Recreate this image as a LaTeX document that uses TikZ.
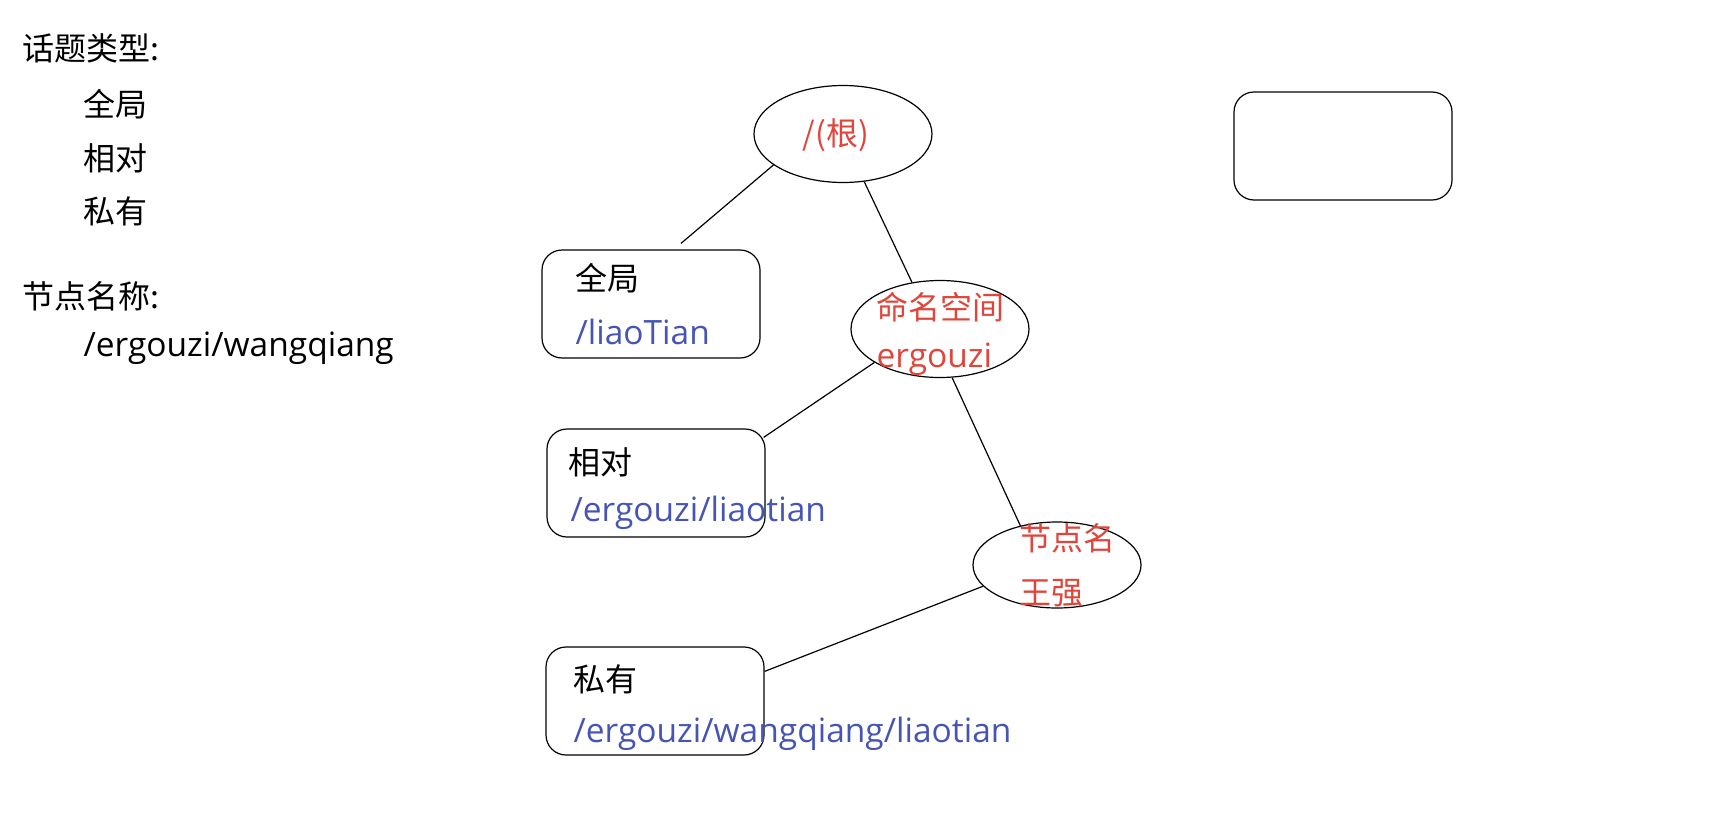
\documentclass[tikz,border=0pt]{standalone}
\usepackage{fontspec}
\setmainfont{Open Sans}
\newfontfamily\cjk{Noto Sans CJK SC}
\usepackage{tikz}
\usetikzlibrary{shapes.geometric, positioning}
\definecolor{nsred}{RGB}{224,68,58}
\definecolor{pathblue}{RGB}{70,84,180}

\begin{document}
\begin{tikzpicture}[
  x=1pt, y=-1pt,
  line width=1.2pt,
  oval/.style={draw, ellipse, inner sep=0pt, minimum width=178pt, minimum height=97pt},
  card/.style={draw, rounded corners=20pt, inner sep=0pt, minimum width=218pt, minimum height=108pt},
  lbl/.style={anchor=west, inner sep=0pt, font=\fontsize{33.5}{40}\selectfont},
  zh/.style={lbl, font=\cjk\fontsize{32}{38}\selectfont},
]
\useasboundingbox (0,0) rectangle (1733,830);

% legend on the left
\node[zh] (kinds)    at (22,48)  {话题类型:};
\node[zh] (kGlobal)  at (83,104) {全局};
\node[zh] (kRel)     at (83,158) {相对};
\node[zh] (kPriv)    at (83,211) {私有};
\node[zh] (nodename) at (22,296) {节点名称:};
\node[lbl] (example) at (83,348) {/ergouzi/wangqiang};

% tree
\node[oval] (root) at (843,134) {};
\node[zh, anchor=center, text=nsred] (rootT) at (836,135) {/(根)};
\node[oval] (ns) at (940,329) {};
\node[zh, text=nsred] (nsT)  at (876,307) {命名空间};
\node[lbl, text=nsred] (nsU) at (876,359) {ergouzi};
\node[oval, minimum width=168pt, minimum height=86pt] (name) at (1057,565) {};
\node[zh, text=nsred] (nameT)  at (1019,538) {节点名};
\node[zh, text=nsred] (nameU)  at (1019,593) {王强};

\node[card] (global) at (651,304) {};
\node[zh] (globalT) at (575,278) {全局};
\node[lbl, text=pathblue] (globalP) at (575,332) {/liaoTian};
\node[card] (relative) at (656,483) {};
\node[zh] (relativeT) at (568,462) {相对};
\node[lbl, text=pathblue] (relativeP) at (570,513) {/ergouzi/liaotian};
\node[card] (private) at (655,701) {};
\node[zh] (privateT) at (573,679) {私有};
\node[lbl, text=pathblue] (privateP) at (573,734) {/ergouzi/wangqiang/liaotian};

\node[card] (blank) at (1343,146) {};

% connectors
\draw (root.204) -- ([xshift=30pt,yshift=6pt]global.north);
\draw (root.294) -- (ns.121);
\draw (ns.207) -- ([xshift=-2pt,yshift=-9pt]relative.north east);
\draw (ns.284) -- (name.133);
\draw (name.196) -- ([yshift=-25pt]private.north east);
\end{tikzpicture}
\end{document}
